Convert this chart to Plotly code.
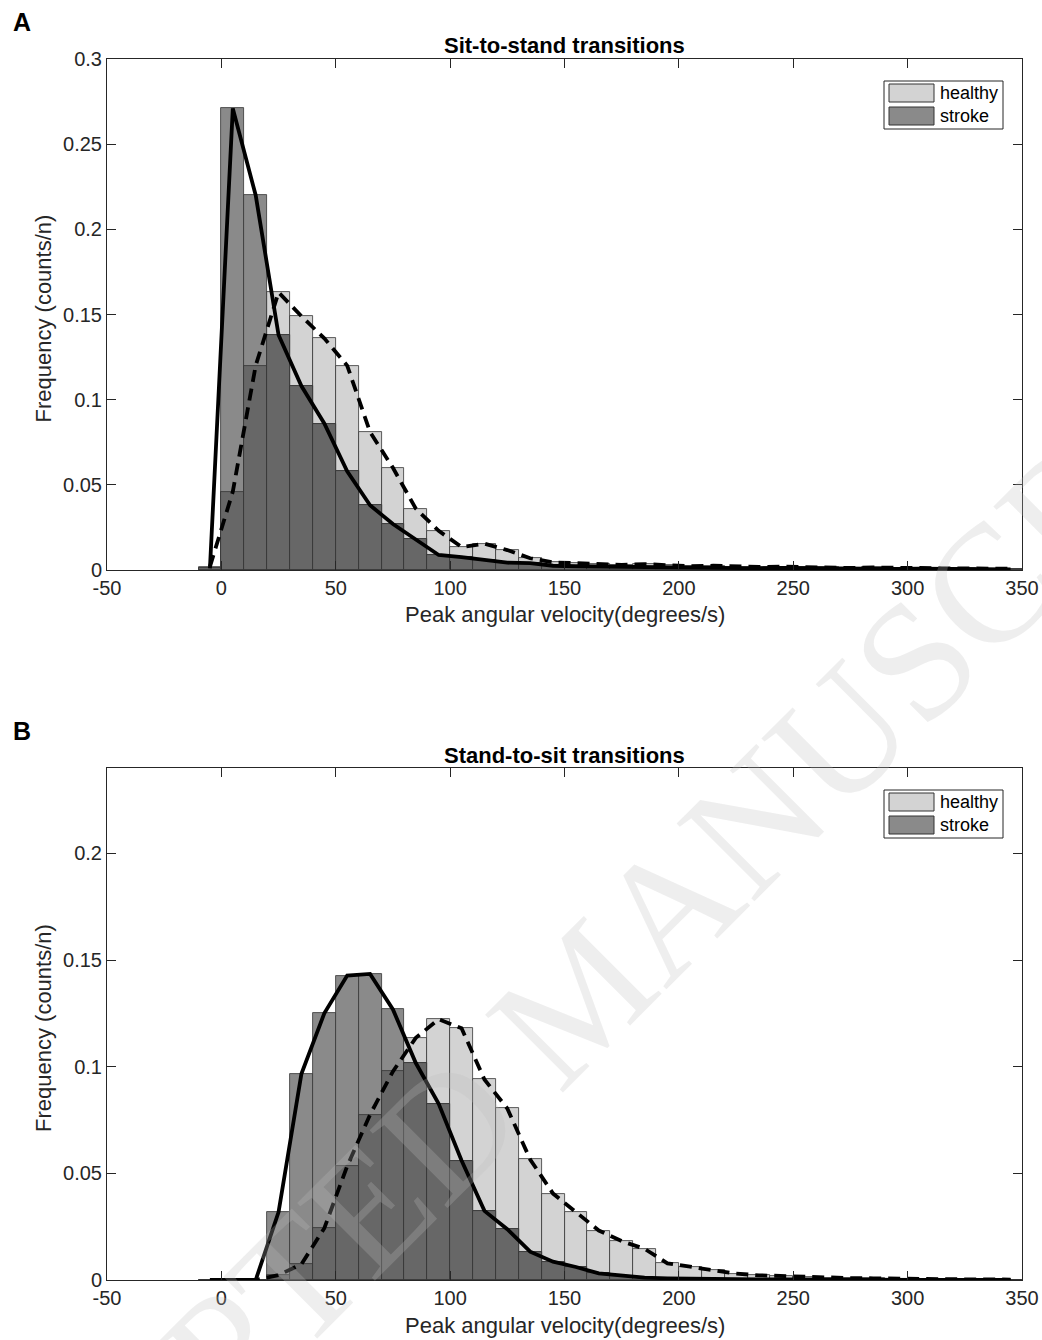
import plotly.graph_objects as go

# ---------------- data ----------------
bin_edges_start = list(range(-10, 350, 10))          # left edges of 10-deg bins
bin_width = 10
xtick_vals = [-50, 0, 50, 100, 150, 200, 250, 300, 350]
xtick_text = ["-50", "0", "50", "100", "150", "200", "250", "300", "350"]
ytick_vals_a = [0, 0.05, 0.1, 0.15, 0.2, 0.25, 0.3]
ytick_text_a = ["0", "0.05", "0.1", "0.15", "0.2", "0.25", "0.3"]
ytick_vals_b = [0, 0.05, 0.1, 0.15, 0.2]
ytick_text_b = ["0", "0.05", "0.1", "0.15", "0.2"]

# Panel A: sit-to-stand
a_healthy = [0.002, 0.046, 0.120, 0.163, 0.149, 0.136, 0.120, 0.081, 0.060, 0.036,
             0.023, 0.0135, 0.0155, 0.0117, 0.0069, 0.0045,
             0.0040, 0.0035, 0.0030, 0.0035, 0.0028, 0.0022, 0.0025, 0.0020, 0.0018, 0.0020,
             0.0017, 0.0015, 0.0012, 0.0015, 0.0012, 0.0010, 0.0010, 0.0009, 0.0008, 0.0008]
a_stroke = [0.001, 0.271, 0.220, 0.138, 0.108, 0.086, 0.058, 0.038, 0.027, 0.018,
            0.0088, 0.0076, 0.0057, 0.0043, 0.0040, 0.0025,
            0.0022, 0.0020, 0.0018, 0.0020, 0.0015, 0.0012, 0.0015, 0.0012, 0.0010, 0.0012,
            0.0010, 0.0008, 0.0010, 0.0008, 0.0007, 0.0008, 0.0006, 0.0006, 0.0005, 0.0004]

# Panel B: stand-to-sit
b_healthy = [0, 0, 0, 0.0023, 0.0074, 0.0243, 0.0534, 0.0775, 0.0978, 0.1135,
             0.1222, 0.1180, 0.094, 0.0804, 0.0565, 0.0405, 0.0321, 0.0232, 0.0182, 0.0146,
             0.0078, 0.0063, 0.0047, 0.0030, 0.0022, 0.0018, 0.0015, 0.0010, 0.0009, 0.0008,
             0.0006, 0.0005, 0.0004, 0.0003, 0.0003, 0.0002]
b_stroke = [0, 0, 0, 0.0318, 0.0967, 0.125, 0.1427, 0.1435, 0.1268, 0.1017,
            0.0826, 0.056, 0.0324, 0.0238, 0.0133, 0.0086, 0.0061, 0.0031, 0.0019, 0.0011,
            0.0008, 0.0006, 0.0004, 0.0004, 0.0003, 0.0003, 0.0002, 0.0002, 0.0002, 0.0001,
            0.0001, 0.0001, 0.0001, 0.0001, 0.0001, 0.0001]

titles = ["Sit-to-stand transitions", "Stand-to-sit transitions"]
panel_labels = ["A", "B"]
x_title = "Peak angular velocity(degrees/s)"
y_title = "Frequency (counts/n)"
series_names = ["healthy", "stroke"]

# ---------------- styling ----------------
FONT = "Liberation Sans, Arial, sans-serif"
TXT = "#262626"
HEALTHY_COL = "#d3d3d3"
STROKE_COL = "#8a8a8a"
OVERLAP_COL = "#676767"
EDGE = "#333333"

OFF = 0                      # body margin removed by the post script below
W, H = 1042, 1340


def px(x):
    return (x - OFF) / W


def py(y):
    return 1 - (y - OFF) / H


centers = [s + bin_width / 2 for s in bin_edges_start]

fig = go.Figure()

panels = [
    (a_healthy, a_stroke, "x", "y"),
    (b_healthy, b_stroke, "x2", "y2"),
]
for healthy, stroke, xa, ya in panels:
    overlap = [min(h, s) for h, s in zip(healthy, stroke)]
    fig.add_trace(go.Bar(x=centers, y=healthy, width=bin_width, name=series_names[0],
                         marker=dict(color=HEALTHY_COL, line=dict(color=EDGE, width=0.8)),
                         xaxis=xa, yaxis=ya, showlegend=False))
    fig.add_trace(go.Bar(x=centers, y=stroke, width=bin_width, name=series_names[1],
                         marker=dict(color=STROKE_COL, line=dict(color=EDGE, width=0.8)),
                         xaxis=xa, yaxis=ya, showlegend=False))
    fig.add_trace(go.Bar(x=centers, y=overlap, width=bin_width, name="overlap",
                         marker=dict(color=OVERLAP_COL, line=dict(color=EDGE, width=0.8)),
                         xaxis=xa, yaxis=ya, showlegend=False))
    fig.add_trace(go.Scatter(x=centers, y=healthy, mode="lines", showlegend=False,
                             line=dict(color="black", width=3.8, dash="12px,7px"),
                             xaxis=xa, yaxis=ya))
    fig.add_trace(go.Scatter(x=centers, y=stroke, mode="lines", showlegend=False,
                             line=dict(color="black", width=3.8),
                             xaxis=xa, yaxis=ya))

xdom = [px(107), px(1022)]
ydomA = [py(570), py(59)]
ydomB = [py(1280), py(768)]

common_x = dict(range=[-50, 350], tickvals=xtick_vals, ticktext=xtick_text,
                ticks="inside", ticklen=9, tickcolor=TXT, showline=True, linecolor=TXT,
                linewidth=1, mirror="ticks", showgrid=False, zeroline=False, domain=xdom,
                automargin=False, tickfont=dict(family=FONT, size=20, color=TXT))
common_y = dict(ticks="inside", ticklen=9, tickcolor=TXT, showline=True, linecolor=TXT,
                linewidth=1, mirror="ticks", showgrid=False, zeroline=False,
                automargin=False, tickfont=dict(family=FONT, size=20, color=TXT))

fig.update_layout(
    width=W, height=H, barmode="overlay", bargap=0,
    paper_bgcolor="white", plot_bgcolor="white",
    margin=dict(l=0, r=0, t=0, b=0, autoexpand=False),
    xaxis=dict(common_x, anchor="y"),
    yaxis=dict(common_y, range=[0, 0.3], tickvals=ytick_vals_a, ticktext=ytick_text_a,
               domain=ydomA, anchor="x"),
    xaxis2=dict(common_x, anchor="y2"),
    yaxis2=dict(common_y, range=[0, 0.24], tickvals=ytick_vals_b, ticktext=ytick_text_b,
                domain=ydomB, anchor="x2"),
    showlegend=False,
)

annotations = []
shapes = []
panel_top = [59, 768]
panel_bottom = [570, 1280]
for i, (t, lab) in enumerate(zip(titles, panel_labels)):
    top, bot = panel_top[i], panel_bottom[i]
    annotations.append(dict(text="<b>" + t + "</b>", x=px(564.5), y=py(top - 13),
                            xref="paper", yref="paper", showarrow=False,
                            xanchor="center", yanchor="middle",
                            font=dict(family=FONT, size=22, color="black")))
    annotations.append(dict(text="<b>" + lab + "</b>", x=px(22), y=py(top - 37),
                            xref="paper", yref="paper", showarrow=False,
                            xanchor="center", yanchor="middle",
                            font=dict(family=FONT, size=25, color="black")))
    annotations.append(dict(text=x_title, x=px(564.5), y=py(bot + 45),
                            xref="paper", yref="paper", showarrow=False,
                            xanchor="center", yanchor="middle",
                            font=dict(family=FONT, size=22, color=TXT)))
    annotations.append(dict(text=y_title, x=px(43), y=py((top + bot) / 2 + 4),
                            xref="paper", yref="paper", showarrow=False, textangle=-90,
                            xanchor="center", yanchor="middle",
                            font=dict(family=FONT, size=22, color=TXT)))
    # legend box (drawn manually to get MATLAB-like wide swatches)
    lx0, lx1 = 884, 1003
    ly0 = top + 22
    shapes.append(dict(type="rect", xref="paper", yref="paper",
                       x0=px(lx0), x1=px(lx1), y0=py(ly0), y1=py(ly0 + 48),
                       line=dict(color=TXT, width=1), fillcolor="white"))
    for j, (nm, col) in enumerate(zip(series_names, [HEALTHY_COL, STROKE_COL])):
        sy = ly0 + 3 + j * 23
        shapes.append(dict(type="rect", xref="paper", yref="paper",
                           x0=px(lx0 + 5), x1=px(lx0 + 50), y0=py(sy), y1=py(sy + 18),
                           line=dict(color=EDGE, width=1), fillcolor=col))
        annotations.append(dict(text=nm, x=px(lx0 + 54), y=py(sy + 9),
                                xref="paper", yref="paper", showarrow=False,
                                xanchor="left", yanchor="middle",
                                font=dict(family=FONT, size=18, color="black")))

# faint journal watermark
annotations.append(dict(text="ACCEPTED MANUSCRIPT", x=px(580), y=py(995),
                        xref="paper", yref="paper", showarrow=False, textangle=-45,
                        xanchor="center", yanchor="middle",
                        font=dict(family="Liberation Serif, serif", size=168,
                                  color="rgba(190,190,190,0.26)")))
fig.update_layout(annotations=annotations, shapes=shapes)

fig.write_html("out.html",
               config={"displayModeBar": False},
               post_script="document.body.style.margin='0px';"
                           "document.body.style.overflow='hidden';")
